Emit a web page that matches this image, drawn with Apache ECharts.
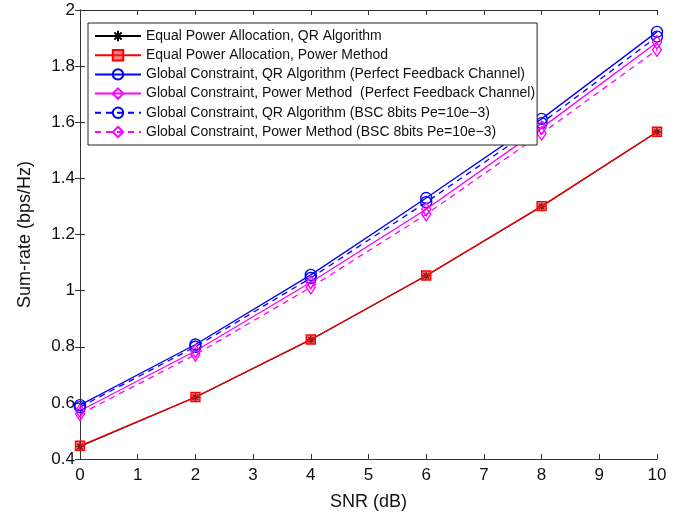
<!DOCTYPE html>
<html>
<head>
<meta charset="utf-8">
<script src="https://cdn.jsdelivr.net/npm/echarts@6/dist/echarts.min.js"></script>
<style>html,body{margin:0;padding:0;background:#fff}#c{width:686px;height:516px}</style>
</head>
<body>
<div id="c"></div>
<script>
const snr = [0, 2, 4, 6, 8, 10];
const epQR = [0.445, 0.620, 0.825, 1.053, 1.300, 1.565];
const epPM = [0.447, 0.621, 0.826, 1.054, 1.301, 1.566];
const gcQR = [0.592, 0.808, 1.056, 1.330, 1.612, 1.922];
const gcPM = [0.572, 0.785, 1.030, 1.290, 1.580, 1.885];
const gcQRbsc = [0.585, 0.800, 1.045, 1.315, 1.597, 1.905];
const gcPMbsc = [0.560, 0.772, 1.012, 1.272, 1.560, 1.858];
const names = [
  'Equal Power Allocation, QR Algorithm',
  'Equal Power Allocation, Power Method',
  'Global Constraint, QR Algorithm (Perfect Feedback Channel)',
  'Global Constraint, Power Method  (Perfect Feedback Channel)',
  'Global Constraint, QR Algorithm (BSC 8bits Pe=10e\u22123)',
  'Global Constraint, Power Method (BSC 8bits Pe=10e\u22123)'
];
const xTicks = [0,1,2,3,4,5,6,7,8,9,10];

const pair = arr => snr.map((x, i) => [x, arr[i]]);
const star = 'path://M5,0L5,10M0,5L10,5M1.5,1.5L8.5,8.5M1.5,8.5L8.5,1.5';
const diamond = 'path://M5,0L10,7L5,14L0,7Z';
const font = 'Liberation Sans, Arial, sans-serif';

function mk(name, data, color, symbol, size, dashed, z, fill) {
  return {
    name, type: 'line', data: pair(data), symbol, symbolSize: size,
    showAllSymbol: true, z,
    lineStyle: { color, width: 1.3, type: dashed ? [6, 5] : 'solid' },
    itemStyle: { color: fill || 'rgba(255,255,255,0)', borderColor: color, borderWidth: 1.4 },
    emphasis: { disabled: true },
    animation: false
  };
}

const chart = echarts.init(document.getElementById('c'), null, { renderer: 'canvas' });
chart.setOption({
  animation: false,
  textStyle: { fontFamily: font },
  grid: { left: 80, right: 29, top: 10, bottom: 57, containLabel: false },
  legend: {
    orient: 'vertical', left: 88, top: 23,
    backgroundColor: '#fff', borderColor: '#222', borderWidth: 1,
    padding: [6, 2, 6, 6], itemGap: 5.2, itemWidth: 46, itemHeight: 13,
    textStyle: { fontFamily: font, fontSize: 14, color: '#111' },
    data: names
  },
  xAxis: [{
    type: 'value', min: 0, max: 10, interval: 1,
    name: 'SNR (dB)', nameLocation: 'middle', nameGap: 34,
    nameTextStyle: { fontSize: 18, color: '#111', fontFamily: font },
    axisLine: { lineStyle: { color: '#333', width: 1 } },
    axisTick: { inside: true, length: 5, lineStyle: { color: '#333' } },
    axisLabel: { fontSize: 17, color: '#111', margin: 8, customValues: xTicks },
    splitLine: { show: false }
  }, {
    type: 'value', min: 0, max: 10, interval: 1, position: 'top',
    axisLine: { show: true, lineStyle: { color: '#333', width: 1 } },
    axisTick: { inside: true, length: 5, lineStyle: { color: '#333' } },
    axisLabel: { show: false }, splitLine: { show: false }
  }],
  yAxis: [{
    type: 'value', min: 0.4, max: 2, interval: 0.2,
    name: 'Sum-rate (bps/Hz)', nameLocation: 'middle', nameGap: 46,
    nameTextStyle: { fontSize: 18, color: '#111', fontFamily: font },
    axisLine: { show: true, lineStyle: { color: '#333', width: 1 } },
    axisTick: { show: true, inside: true, length: 5, lineStyle: { color: '#333' } },
    axisLabel: { fontSize: 17, color: '#111', margin: 5 },
    splitLine: { show: false }
  }, {
    type: 'value', min: 0.4, max: 2, interval: 0.2, position: 'right',
    axisLine: { show: true, lineStyle: { color: '#333', width: 1 } },
    axisTick: { show: true, inside: true, length: 5, lineStyle: { color: '#333' } },
    axisLabel: { show: false }, splitLine: { show: false }
  }],
  series: [
    mk(names[0], epQR, '#000', star, 8, false, 3),
    mk(names[1], epPM, '#ff0000', 'rect', 9, false, 4, 'rgba(255,30,30,0.55)'),
    mk(names[2], gcQR, '#0000ff', 'circle', 11, false, 3),
    mk(names[3], gcPM, '#ff00ff', diamond, [9, 13], false, 3),
    mk(names[4], gcQRbsc, '#0000ff', 'circle', 11, true, 2),
    mk(names[5], gcPMbsc, '#ff00ff', diamond, [9, 13], true, 2)
  ]
});
</script>
</body>
</html>
